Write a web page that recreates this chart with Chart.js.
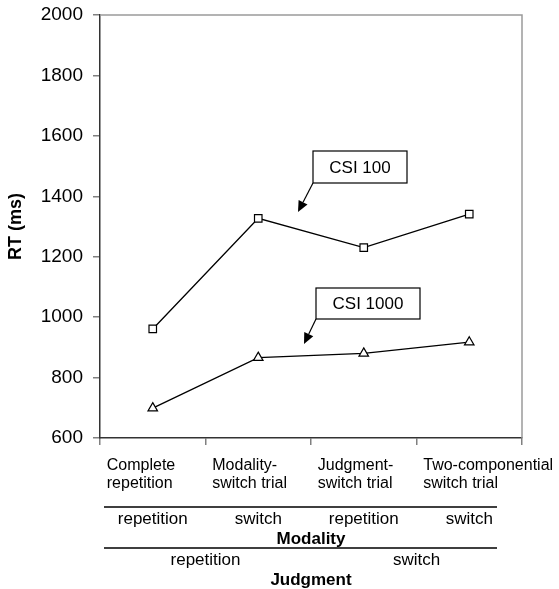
<!DOCTYPE html>
<html lang="en">
<head>
<meta charset="UTF-8">
<title>RT by trial type</title>
<script src="https://cdn.jsdelivr.net/npm/chart.js"></script>
<style>
  body { margin: 0; background: #fff; }
</style>
</head>
<body>
<canvas id="rtChart" width="559" height="589"></canvas>
<script>
// categories (two-line labels) and the two CSI series
var trialTypes = [['Complete', 'repetition'], ['Modality-', 'switch trial'], ['Judgment-', 'switch trial'], ['Two-componential', 'switch trial']];
var csi100 = [961, 1327, 1230, 1341];
var csi1000 = [699, 866, 880, 917];
var yTicks = [600, 800, 1000, 1200, 1400, 1600, 1800, 2000];
// factor rows under the axis
var modalityRow = ['repetition', 'switch', 'repetition', 'switch'];
var judgmentRow = ['repetition', 'switch'];

var FONT = "'Liberation Sans', Arial, sans-serif";

function arrow(ctx, x1, y1, x2, y2) {
    var ang = Math.atan2(y2 - y1, x2 - x1);
    var len = 11, half = 5;
    var bx = x2 - Math.cos(ang) * len, by = y2 - Math.sin(ang) * len;
    ctx.beginPath();
    ctx.moveTo(x1, y1);
    ctx.lineTo(bx, by);
    ctx.stroke();
    ctx.beginPath();
    ctx.moveTo(x2, y2);
    ctx.lineTo(bx - Math.sin(ang) * half, by + Math.cos(ang) * half);
    ctx.lineTo(bx + Math.sin(ang) * half, by - Math.cos(ang) * half);
    ctx.closePath();
    ctx.fill();
}

function callout(ctx, text, x, y, w, h, tipX, tipY) {
    ctx.fillStyle = '#fff';
    ctx.fillRect(x, y, w, h);
    ctx.strokeStyle = '#000';
    ctx.lineWidth = 1.2;
    ctx.strokeRect(x, y, w, h);
    ctx.fillStyle = '#000';
    ctx.font = '17px ' + FONT;
    ctx.textAlign = 'center';
    ctx.textBaseline = 'middle';
    ctx.fillText(text, x + w / 2, y + h / 2 + 1);
    arrow(ctx, x, y + h, tipX, tipY);
}

var extras = {
    id: 'extras',
    afterDraw: function(chart) {
        var ctx = chart.ctx, a = chart.chartArea, xs = chart.scales.x;
        ctx.save();
        // grey frame on top and right
        ctx.strokeStyle = '#9a9a9a';
        ctx.lineWidth = 1.5;
        ctx.beginPath();
        ctx.moveTo(a.left, a.top);
        ctx.lineTo(a.right, a.top);
        ctx.lineTo(a.right, a.bottom);
        ctx.stroke();

        callout(ctx, 'CSI 100', 313, 151, 94, 32, 298, 212);
        callout(ctx, 'CSI 1000', 316, 288, 104, 31, 304, 344);

        // factor table below the axis
        ctx.strokeStyle = '#000';
        ctx.lineWidth = 1.5;
        ctx.beginPath();
        ctx.moveTo(a.left + 4, 507); ctx.lineTo(a.left + 397, 507);
        ctx.moveTo(a.left + 4, 548); ctx.lineTo(a.left + 397, 548);
        ctx.stroke();

        ctx.fillStyle = '#000';
        ctx.textAlign = 'center';
        ctx.textBaseline = 'middle';
        ctx.font = '17px ' + FONT;
        modalityRow.forEach(function(t, i) {
            ctx.fillText(t, xs.getPixelForValue(i), 519);
        });
        judgmentRow.forEach(function(t, i) {
            ctx.fillText(t, xs.getPixelForValue(i * 2 + 0.5), 560);
        });
        ctx.font = 'bold 17px ' + FONT;
        var mid = (a.left + a.right) / 2;
        ctx.fillText('Modality', mid, 539);
        ctx.fillText('Judgment', mid, 580);
        ctx.restore();
    }
};

var ctx = document.getElementById('rtChart').getContext('2d');
var chart = new Chart(ctx, {
    type: 'line',
    data: {
        labels: trialTypes,
        datasets: [{
            label: 'CSI 100',
            data: csi100,
            borderColor: '#000',
            borderWidth: 1.3,
            tension: 0,
            pointStyle: 'rect',
            pointRadius: 5.3,
            pointBackgroundColor: '#fff',
            pointBorderColor: '#000',
            pointBorderWidth: 1.2
        }, {
            label: 'CSI 1000',
            data: csi1000,
            borderColor: '#000',
            borderWidth: 1.3,
            tension: 0,
            pointStyle: 'triangle',
            pointRadius: 5.5,
            pointBackgroundColor: '#fff',
            pointBorderColor: '#000',
            pointBorderWidth: 1.2
        }]
    },
    options: {
        responsive: false,
        animation: false,
        layout: { padding: { top: 15, right: 37, left: 0, bottom: 0 } },
        plugins: {
            legend: { display: false },
            tooltip: { enabled: false }
        },
        scales: {
            x: {
                offset: true,
                grid: { offset: true, drawOnChartArea: false, tickLength: 7, color: '#808080', lineWidth: 1.5 },
                border: { color: '#333', width: 1.5 },
                ticks: {
                    autoSkip: false,
                    maxRotation: 0,
                    align: 'start',
                    labelOffset: -46,
                    padding: 11,
                    color: '#000',
                    font: { family: FONT, size: 16, lineHeight: 1.15 }
                },
                afterFit: function(s) {
                    s.height = 151;
                    s.paddingLeft = 0;
                    s.paddingRight = 0;
                }
            },
            y: {
                min: 600,
                max: 2000,
                afterBuildTicks: function(s) {
                    s.ticks = yTicks.map(function(v) { return { value: v }; });
                },
                grid: { drawOnChartArea: false, tickLength: 7, color: '#808080', lineWidth: 1.5 },
                border: { color: '#333', width: 1.5 },
                ticks: {
                    padding: 10,
                    color: '#000',
                    font: { family: FONT, size: 19 },
                    callback: function(v) { return String(v); }
                },
                title: {
                    display: true,
                    text: 'RT (ms)',
                    color: '#000',
                    font: { family: FONT, size: 18, weight: 'bold' },
                    padding: { top: 5, bottom: 0 }
                },
                afterFit: function(s) {
                    s.width = 100;
                    s.paddingTop = 0;
                    s.paddingBottom = 0;
                }
            }
        }
    },
    plugins: [extras]
});
</script>
</body>
</html>
